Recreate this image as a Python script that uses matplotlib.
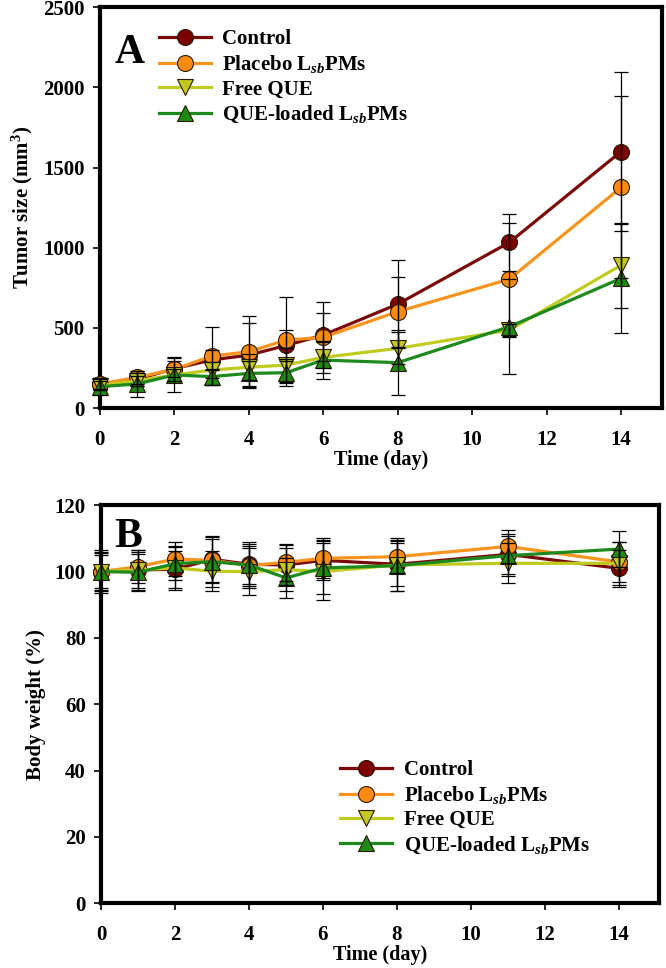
import matplotlib.pyplot as plt

plt.rcParams['font.family'] = ['Liberation Serif', 'DejaVu Serif']
plt.rcParams['font.weight'] = 'bold'
plt.rcParams['mathtext.fontset'] = 'custom'
plt.rcParams['mathtext.rm'] = 'Liberation Serif:bold'
plt.rcParams['mathtext.it'] = 'Liberation Serif:bold:italic'
plt.rcParams['mathtext.bf'] = 'Liberation Serif:bold'

# Datos
dias = [0, 1, 2, 3, 4, 5, 6, 8, 11, 14]
series = ['Control', r'Placebo L$_{\mathit{sb}}$PMs', 'Free QUE', r'QUE-loaded L$_{\mathit{sb}}$PMs']

tumor_control = [150, 180, 245, 300, 330, 390, 455, 648, 1033, 1600]
tumor_placebo = [150, 191, 241, 324, 351, 424, 441, 601, 804, 1376]
tumor_free = [140, 170, 206, 237, 254, 268, 316, 372, 486, 891]
tumor_que = [133, 150, 206, 196, 216, 220, 299, 283, 507, 809]

err_tumor_control = [40, 40, 75, 60, 200, 97, 208, 275, 180, 494]
err_tumor_placebo = [30, 40, 50, 183, 225, 266, 149, 218, 352, 568]
err_tumor_free = [30, 30, 40, 50, 80, 104, 96, 100, 40, 265]
err_tumor_que = [52, 79, 108, 50, 80, 83, 120, 202, 297, 340]

peso_control = [100, 100.5, 100.7, 103.7, 102.2, 102.0, 103.4, 102.2, 105.2, 101.0]
peso_placebo = [100, 101.5, 103.8, 103.4, 101.8, 102.8, 104.0, 104.5, 107.6, 102.9]
peso_free = [100, 100.5, 101.1, 100.1, 100.0, 100.6, 100.0, 102.0, 102.5, 102.5]
peso_que = [100, 99.8, 102.4, 103.0, 102.0, 98.1, 101.1, 101.8, 104.8, 106.8]

err_peso_control = [6.5, 5.5, 5.5, 7.0, 6.0, 6.0, 6.0, 6.5, 6.0, 5.5]
err_peso_placebo = [5.5, 5.0, 5.0, 6.5, 6.0, 5.5, 6.0, 5.0, 5.0, 6.0]
err_peso_free = [6.0, 6.0, 6.5, 6.0, 7.0, 6.5, 8.5, 8.0, 6.0, 6.5]
err_peso_que = [5.0, 5.5, 5.0, 7.5, 7.0, 6.0, 8.0, 7.5, 6.0, 5.5]

colores_linea = ['#7a0a0a', '#f7941d', '#bfcb1f', '#1e8a1e']
colores_marca = ['#7d0000', '#ff8c10', '#c4c820', '#1f8a12']
marcas = ['o', 'o', 'v', '^']


def dibujar(ax, valores, errores):
    for i in range(4):
        ax.plot(dias, valores[i], color=colores_linea[i], lw=2.3, marker=marcas[i],
                markersize=11.5, markerfacecolor=colores_marca[i], markeredgecolor='#2a1a00',
                markeredgewidth=0.8, label=series[i], zorder=3 + i, clip_on=False)
    for i in range(4):
        ax.errorbar(dias, valores[i], yerr=errores[i], fmt='none', ecolor='black',
                    elinewidth=0.9, capsize=5, capthick=0.9, zorder=8, clip_on=False)
    for lado in ['left', 'bottom', 'top', 'right']:
        ax.spines[lado].set_linewidth(3)
    ax.tick_params(direction='out', length=5, width=1.2, labelsize=15)
    ax.tick_params(axis='x', pad=11)
    ax.tick_params(axis='y', pad=6)
    ax.set_xlim(0, 15.1)
    ax.set_xticks(range(0, 15, 2))
    ax.set_xlabel('Time (day)', fontsize=14.5, fontweight='bold', labelpad=0)


fig = plt.figure(figsize=(6.66, 9.68), dpi=100)
ax1 = fig.add_axes([0.150, 0.5785, 0.844, 0.414])
ax2 = fig.add_axes([0.152, 0.067, 0.838, 0.411])

dibujar(ax1, [tumor_control, tumor_placebo, tumor_free, tumor_que],
        [err_tumor_control, err_tumor_placebo, err_tumor_free, err_tumor_que])
ax1.set_ylim(0, 2500)
ax1.set_yticks(range(0, 2501, 500))
ax1.set_ylabel('Tumor size (mm$^3$)', fontsize=15, fontweight='bold', labelpad=6)
ax1.text(0.027, 0.86, 'A', transform=ax1.transAxes, fontsize=30, fontweight='bold')
ax1.legend(loc='upper left', bbox_to_anchor=(0.105, 0.945), frameon=False, fontsize=15,
           handlelength=2.5, handletextpad=0.55, labelspacing=0.2, borderpad=0,
           borderaxespad=0)

dibujar(ax2, [peso_control, peso_placebo, peso_free, peso_que],
        [err_peso_control, err_peso_placebo, err_peso_free, err_peso_que])
ax2.set_ylim(0, 120)
ax2.set_yticks(range(0, 121, 20))
ax2.set_ylabel('Body weight (%)', fontsize=15, fontweight='bold', labelpad=6)
ax2.text(0.023, 0.894, 'B', transform=ax2.transAxes, fontsize=30, fontweight='bold')
ax2.legend(loc='upper left', bbox_to_anchor=(0.428, 0.36), frameon=False, fontsize=15,
           handlelength=2.5, handletextpad=0.55, labelspacing=0.2, borderpad=0,
           borderaxespad=0)

fig.savefig('out.png', dpi=100)
